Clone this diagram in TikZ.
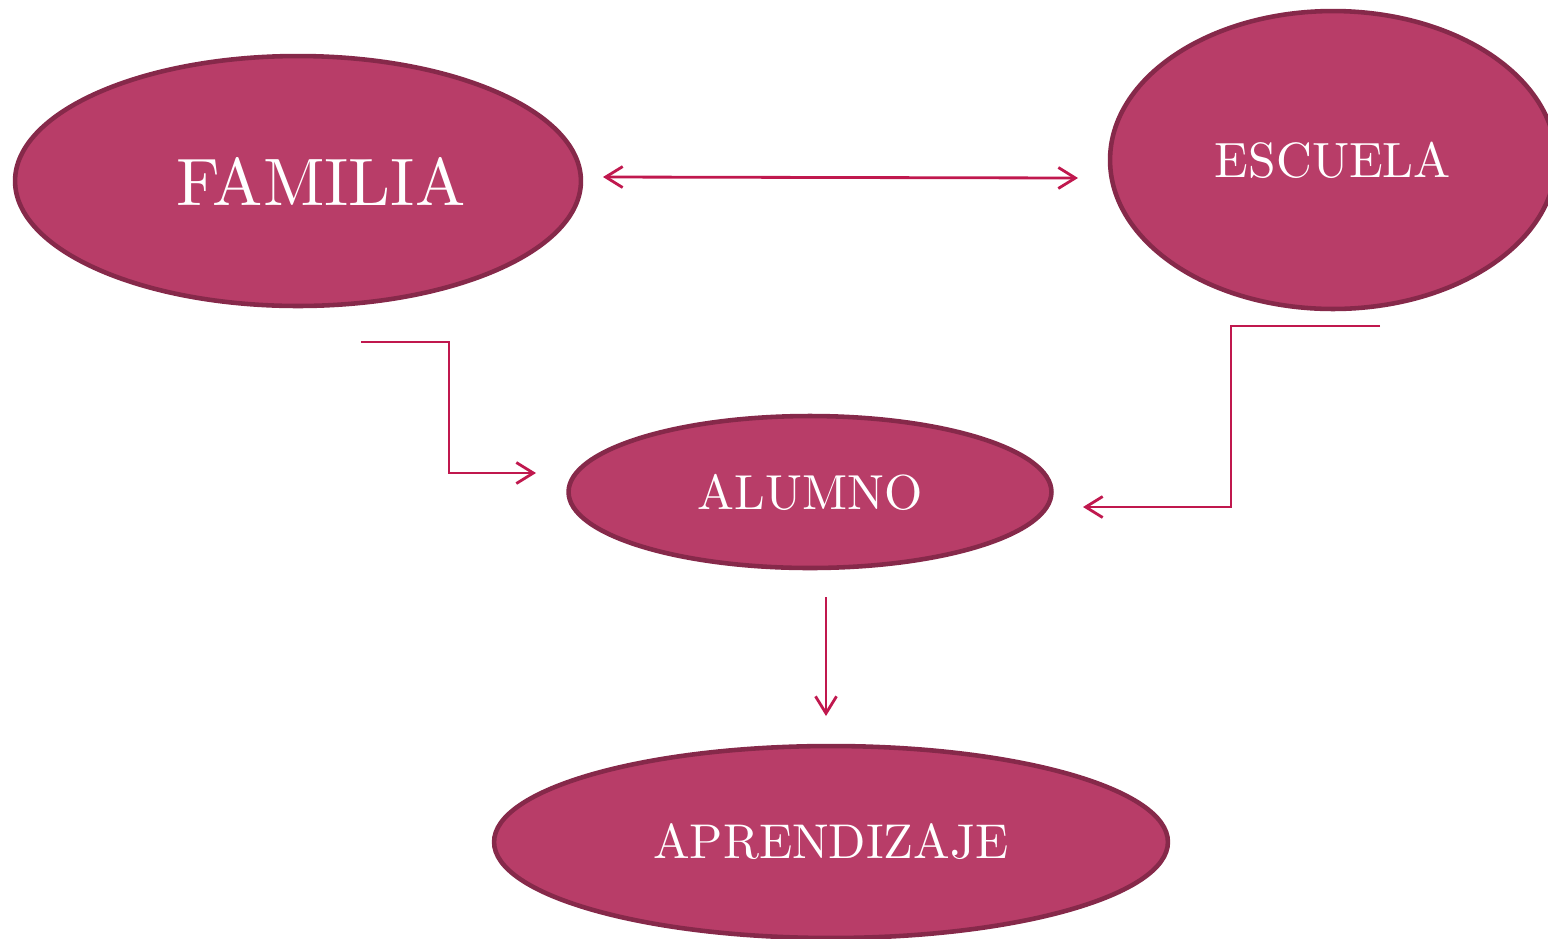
\documentclass[tikz,border=0pt]{standalone}
\usetikzlibrary{shapes.geometric,arrows.meta}
\definecolor{nodefill}{HTML}{B83D68}
\definecolor{nodeedge}{HTML}{86294A}
\definecolor{linkcol}{HTML}{C0184E}
\tikzset{
  blob/.style={ellipse, draw=nodeedge, line width=2.6pt, fill=nodefill, text=white, inner sep=0pt, font=\fontsize{10}{12}\selectfont},
  link/.style={draw=linkcol, line width=1.6pt, -{Straight Barb[length=3.4mm,width=4.2mm]}},
}
\begin{document}
\begin{tikzpicture}[x=0.02cm,y=-0.02cm]
\useasboundingbox (0,0) rectangle (1548,938);
\node[blob, minimum width=11.32cm, minimum height=5cm] (fam) at (298,181) {\hspace*{0.92cm}\scalebox{3.82}{FAMILIA}};
\node[blob, minimum width=8.92cm, minimum height=5.96cm] (esc) at (1333,160) {\scalebox{2.82}{ESCUELA}};
\node[blob, minimum width=9.66cm, minimum height=3.04cm] (alu) at (810,492) {\scalebox{2.8}{ALUMNO}};
\node[blob, minimum width=13.48cm, minimum height=3.84cm] (apr) at (831,842) {\scalebox{2.78}{APRENDIZAJE}};
\coordinate (famL) at (603,177);
\coordinate (escL) at (1078,178);
\coordinate (famout) at (361,342);
\coordinate (aluinL) at (536,473);
\coordinate (escout) at (1380,326);
\coordinate (aluinR) at (1083,507);
\coordinate (aluout) at (826,597);
\coordinate (aprin) at (826,716);
\draw[link, {Straight Barb[length=3.4mm,width=4.2mm]}-{Straight Barb[length=3.4mm,width=4.2mm]}] (famL) -- (escL);
\draw[link] (famout) -- ++(88,0) |- (aluinL);
\draw[link] (escout) -- ++(-149,0) |- (aluinR);
\draw[link] (aluout) -- (aprin);
\end{tikzpicture}
\end{document}
